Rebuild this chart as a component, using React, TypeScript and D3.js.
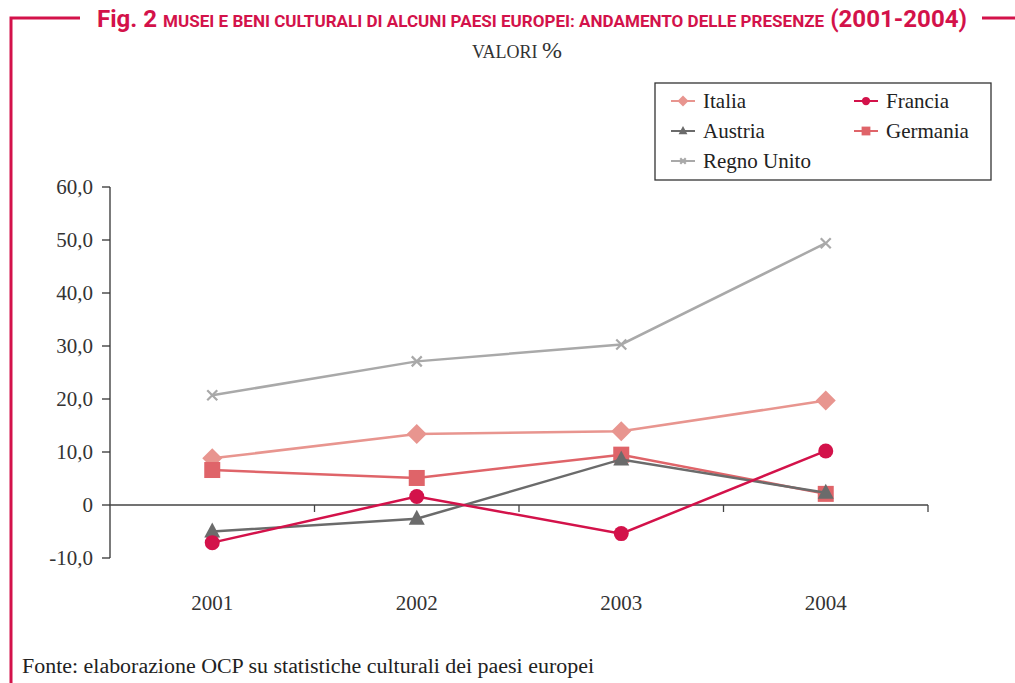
import React from "react";
import * as d3 from "d3";

const years = ["2001", "2002", "2003", "2004"];
const italia = [8.8, 13.4, 13.9, 19.7];
const francia = [-7.1, 1.6, -5.4, 10.2];
const austria = [-5.0, -2.6, 8.6, 2.3];
const germania = [6.6, 5.1, 9.5, 2.1];
const regnoUnito = [20.7, 27.1, 30.3, 49.4];
const yTicks = [-10, 0, 10, 20, 30, 40, 50, 60];

const series = [
    {name: "Regno Unito", values: regnoUnito, color: "#a9a9a9", symbol: "x"},
    {name: "Italia", values: italia, color: "#e8958f", symbol: "diamond"},
    {name: "Germania", values: germania, color: "#df6469", symbol: "square"},
    {name: "Austria", values: austria, color: "#6b6b6b", symbol: "triangle"},
    {name: "Francia", values: francia, color: "#d3124a", symbol: "circle"},
];

const legendItems = [
    {name: "Italia", col: 0, row: 0},
    {name: "Francia", col: 1, row: 0},
    {name: "Austria", col: 0, row: 1},
    {name: "Germania", col: 1, row: 1},
    {name: "Regno Unito", col: 0, row: 2},
];

const serif = "'Liberation Serif', 'DejaVu Serif', serif";
const narrow = "'Roboto', 'DejaVu Sans Condensed', sans-serif";
const red = "#d3124a";

const Marker = props => {
    let {symbol, x, y, color, small} = props;
    let k = small ? 0.55 : 1;
    if (symbol === "circle") return <circle cx={x} cy={y} r={7.5 * k} fill={color}/>;
    if (symbol === "square") return <rect x={x - 8 * k} y={y - 8 * k} width={16 * k} height={16 * k} fill={color}/>;
    if (symbol === "diamond") return <path d={`M${x},${y - 10 * k}L${x + 10 * k},${y}L${x},${y + 10 * k}L${x - 10 * k},${y}Z`} fill={color}/>;
    if (symbol === "triangle") return <path d={`M${x},${y - 9 * k}L${x + 8 * k},${y + 6 * k}L${x - 8 * k},${y + 6 * k}Z`} fill={color}/>;
    let s = 5 * k;
    return <path d={`M${x - s},${y - s}L${x + s},${y + s}M${x - s},${y + s}L${x + s},${y - s}`} stroke={color} strokeWidth={2.2}/>;
};

export default function App() {
    const width = 1015;
    const height = 683;
    const left = 110, right = 928, top = 187, bottom = 558;

    let x = d3.scaleBand().domain(years).range([left, right]);
    let y = d3.scaleLinear().domain([-10, 60]).range([bottom, top]);
    let line = d3.line<number>()
        .x((d, i) => x(years[i]) + x.bandwidth() / 2)
        .y(d => y(d));

    return (
        <svg width={width} height={height} style={{position: "absolute", left: 0, top: 0}}>
            <rect width={width} height={height} fill="#fff"/>
            {/* frame */}
            <path d="M11,683V18H80" fill="none" stroke={red} strokeWidth={3}/>
            <path d="M982,18H1015" fill="none" stroke={red} strokeWidth={3}/>
            <text x={97} y={27} fill={red} fontFamily={narrow} fontWeight="bold" fontSize={24}
                  textLength={870} lengthAdjust="spacingAndGlyphs">
                Fig. 2 <tspan fontSize={17}>MUSEI E BENI CULTURALI DI ALCUNI PAESI EUROPEI: ANDAMENTO DELLE PRESENZE</tspan> (2001-2004)
            </text>
            <text x={517} y={58} textAnchor="middle" fontFamily={serif} fontSize={18} fill="#333">
                VALORI <tspan fontSize={24}>%</tspan>
            </text>

            {/* axes */}
            <line x1={left} x2={left} y1={top} y2={bottom} stroke="#333" strokeWidth={1.3}/>
            {yTicks.map(t => (
                <g key={t}>
                    <line x1={left - 8} x2={left} y1={y(t)} y2={y(t)} stroke="#333" strokeWidth={1.3}/>
                    <text x={left - 17} y={y(t) + 7} textAnchor="end" fontFamily={serif} fontSize={21} fill="#333">
                        {t === 0 ? "0" : d3.format(".1f")(t).replace(".", ",").replace("\u2212", "-")}
                    </text>
                </g>
            ))}
            <line x1={left} x2={right} y1={y(0)} y2={y(0)} stroke="#444" strokeWidth={1.3}/>
            {years.map(yr => (
                <g key={yr}>
                    <line x1={x(yr) + x.bandwidth()} x2={x(yr) + x.bandwidth()} y1={y(0)} y2={y(0) + 7} stroke="#444" strokeWidth={1.3}/>
                    <text x={x(yr) + x.bandwidth() / 2} y={610} textAnchor="middle" fontFamily={serif} fontSize={21} fill="#333">{yr}</text>
                </g>
            ))}

            {/* series */}
            {series.map(s => (
                <g key={s.name}>
                    <path d={line(s.values)} fill="none" stroke={s.color} strokeWidth={2.5}/>
                    {s.values.map((v, i) => (
                        <Marker key={i} symbol={s.symbol} color={s.color}
                                x={x(years[i]) + x.bandwidth() / 2} y={y(v)}/>
                    ))}
                </g>
            ))}

            {/* legend */}
            <rect x={655} y={83} width={336} height={97} fill="#fff" stroke="#333" strokeWidth={1.3}/>
            {legendItems.map(item => {
                let s = series.find(d => d.name === item.name);
                let lx = 671 + item.col * 183;
                let ly = 101 + item.row * 30;
                return (
                    <g key={item.name}>
                        <line x1={lx} x2={lx + 24} y1={ly} y2={ly} stroke={s.color} strokeWidth={2}/>
                        <Marker symbol={s.symbol} color={s.color} x={lx + 12} y={ly} small/>
                        <text x={lx + 32} y={ly + 7} fontFamily={serif} fontSize={21} fill="#222">{item.name}</text>
                    </g>
                );
            })}

            <text x={22} y={673} fontFamily={serif} fontSize={20} fill="#222"
                  textLength={572} lengthAdjust="spacingAndGlyphs">
                Fonte: elaborazione OCP su statistiche culturali dei paesi europei
            </text>
        </svg>
    );
}
